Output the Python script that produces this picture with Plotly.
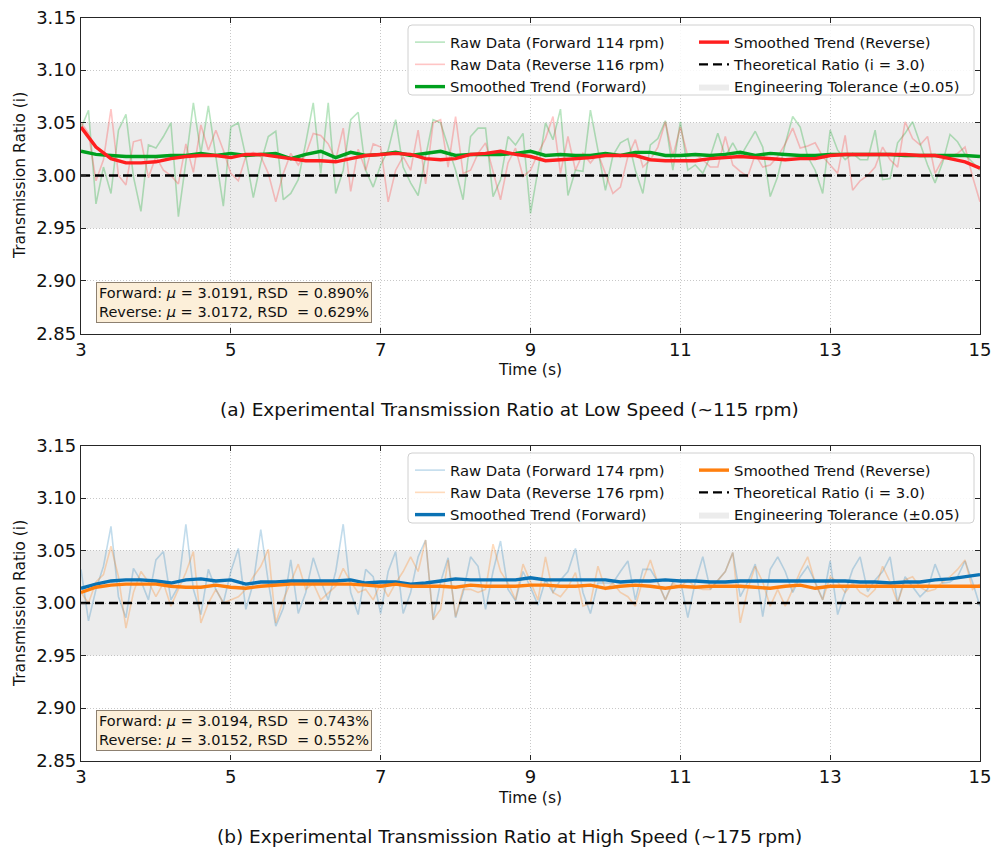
import plotly.graph_objects as go

# ---------------- data ----------------
time_s = [round(3.0 + 0.1 * i, 1) for i in range(121)]
time_smooth = [round(3.0 + 0.2 * i, 1) for i in range(61)]

fwd_low_raw = [
    3.045, 3.062, 2.973, 3.008, 2.983, 3.043, 3.058, 2.999, 2.966, 3.029,
    3.026, 3.037, 3.050, 2.961, 3.013, 3.069, 3.021, 3.066, 3.018, 2.971,
    3.046, 3.050, 3.018, 2.979, 3.012, 3.037, 3.042, 2.977, 2.983, 2.996,
    3.031, 3.069, 3.002, 3.069, 2.983, 3.005, 3.053, 3.060, 3.005, 2.989,
    3.010, 3.024, 3.053, 3.008, 2.993, 2.981, 3.018, 3.053, 3.050, 3.027,
    3.005, 2.977, 3.037, 3.045, 3.045, 2.980, 2.996, 3.037, 3.029, 3.040,
    2.964, 3.005, 3.050, 3.034, 3.063, 2.981, 3.005, 3.004, 3.062, 3.024,
    2.986, 3.019, 3.031, 3.035, 3.005, 2.983, 3.029, 3.035, 3.052, 3.005,
    3.051, 3.005, 3.010, 3.002, 3.018, 3.040, 3.018, 3.031, 3.018, 3.030,
    3.042, 3.027, 2.980, 2.999, 3.030, 3.056, 3.046, 3.018, 3.005, 2.983,
    3.043, 3.024, 3.015, 3.021, 3.015, 3.015, 3.043, 2.996, 2.997, 3.031,
    3.040, 3.051, 3.031, 3.010, 2.993, 3.012, 3.039, 3.032, 3.020, 3.012,
    3.005,
]
rev_low_raw = [
    3.050, 3.040, 2.995, 3.015, 3.063, 3.000, 2.991, 3.032, 3.034, 2.998,
    3.018, 3.005, 3.000, 2.992, 3.030, 3.003, 3.048, 3.024, 3.043, 3.024,
    3.002, 2.995, 3.018, 3.022, 3.018, 3.002, 2.975, 3.002, 3.021, 3.010,
    3.020, 3.040, 3.038, 3.030, 3.015, 3.045, 2.985, 3.025, 3.005, 3.030,
    3.027, 2.975, 3.005, 3.018, 3.005, 3.043, 2.992, 3.050, 3.053, 3.008,
    3.056, 3.002, 3.005, 3.021, 3.031, 3.005, 2.977, 3.012, 3.026, 2.999,
    3.005, 3.021, 3.035, 3.056, 3.002, 3.037, 3.005, 3.021, 3.012, 3.021,
    3.002, 2.983, 2.989, 3.018, 3.034, 3.008, 3.015, 3.027, 3.051, 3.018,
    3.046, 3.018, 3.020, 3.015, 3.008, 3.008, 3.037, 3.010, 3.004, 2.999,
    3.020, 3.008, 3.010, 3.018, 3.030, 3.045, 3.026, 3.028, 3.031, 3.018,
    3.010, 3.002, 3.038, 2.986, 2.995, 3.000, 3.008, 3.027, 3.015, 3.008,
    3.051, 3.035, 3.029, 3.037, 3.002, 3.015, 3.018, 3.021, 3.027, 2.999,
    2.975,
]
fwd_low_smooth = [
    3.023, 3.020, 3.019, 3.018, 3.018, 3.018, 3.019, 3.019, 3.021, 3.019, 3.021,
    3.019, 3.020, 3.021, 3.016, 3.020, 3.023, 3.017, 3.022, 3.019, 3.020,
    3.022, 3.019, 3.021, 3.023, 3.019, 3.020, 3.020, 3.020, 3.021, 3.023,
    3.019, 3.020, 3.019, 3.019, 3.021, 3.019, 3.022, 3.022, 3.019, 3.019,
    3.020, 3.019, 3.020, 3.022, 3.019, 3.021, 3.020, 3.019, 3.019, 3.020,
    3.020, 3.020, 3.020, 3.020, 3.019, 3.019, 3.019, 3.019, 3.019, 3.018,
]
rev_low_smooth = [
    3.046, 3.027, 3.016, 3.012, 3.012, 3.013, 3.016, 3.018, 3.019, 3.019, 3.017,
    3.020, 3.020, 3.018, 3.016, 3.014, 3.014, 3.013, 3.016, 3.019, 3.020,
    3.021, 3.020, 3.016, 3.015, 3.016, 3.020, 3.021, 3.023, 3.020, 3.018,
    3.014, 3.015, 3.016, 3.017, 3.019, 3.019, 3.019, 3.015, 3.014, 3.014,
    3.014, 3.016, 3.017, 3.018, 3.017, 3.016, 3.015, 3.016, 3.016, 3.019,
    3.020, 3.020, 3.020, 3.020, 3.020, 3.019, 3.019, 3.016, 3.013, 3.007,
]

fwd_high_raw = [
    3.032, 2.983, 3.013, 3.035, 3.073, 3.006, 2.986, 3.033, 3.021, 3.003,
    3.041, 3.049, 3.003, 3.016, 3.075, 3.013, 2.989, 3.032, 3.013, 3.000,
    3.030, 3.052, 2.994, 3.019, 3.070, 3.020, 2.978, 2.995, 3.041, 2.990,
    3.010, 3.043, 3.021, 3.003, 3.030, 3.075, 3.010, 2.989, 3.032, 3.025,
    2.990, 3.030, 3.049, 2.990, 3.010, 3.044, 3.060, 2.984, 3.020, 3.043,
    2.986, 3.010, 3.044, 3.035, 2.994, 3.030, 3.059, 3.013, 3.002, 3.030,
    3.015, 2.998, 3.022, 3.010, 3.022, 3.030, 3.052, 3.010, 2.990, 3.019,
    3.019, 3.019, 3.030, 3.040, 3.003, 3.032, 3.032, 3.020, 3.003, 3.020,
    3.022, 2.986, 3.020, 3.044, 3.013, 3.022, 3.030, 3.048, 3.006, 3.020,
    3.037, 2.987, 3.032, 3.044, 3.030, 3.010, 3.025, 3.035, 3.020, 3.003,
    3.040, 2.989, 3.010, 3.032, 3.044, 3.011, 3.022, 3.030, 3.044, 3.000,
    3.025, 3.015, 3.006, 3.013, 3.037, 3.019, 3.020, 3.025, 3.040, 3.020,
    2.997,
]
rev_high_raw = [
    3.010, 3.000, 3.020, 3.027, 3.054, 3.025, 2.976, 3.010, 3.030, 3.020,
    3.006, 3.019, 2.997, 3.013, 3.029, 3.049, 2.981, 3.000, 3.013, 3.000,
    3.003, 3.006, 3.013, 3.025, 3.035, 3.051, 2.981, 3.003, 3.020, 3.037,
    3.013, 3.019, 3.003, 3.010, 3.016, 3.033, 3.020, 3.010, 3.013, 3.003,
    3.019, 3.006, 3.019, 3.030, 3.044, 3.030, 3.060, 2.984, 2.994, 3.041,
    2.987, 3.013, 3.013, 3.010, 3.013, 3.056, 3.030, 3.019, 3.003, 3.037,
    3.020, 3.003, 3.044, 3.010, 3.006, 3.015, 3.029, 2.997, 3.000, 3.035,
    3.013, 3.019, 3.010, 3.006, 2.997, 3.022, 3.041, 3.019, 3.003, 3.019,
    3.015, 3.022, 3.015, 3.013, 3.013, 3.022, 3.030, 3.048, 2.981, 3.013,
    3.035, 3.020, 2.997, 3.013, 2.997, 3.013, 3.030, 3.044, 3.019, 3.003,
    3.025, 3.020, 3.010, 3.019, 3.010, 3.006, 3.013, 3.035, 3.020, 3.000,
    3.022, 3.025, 3.015, 3.011, 3.013, 3.020, 3.025, 3.032, 3.041, 3.013,
    3.018,
]
fwd_high_smooth = [
    3.014, 3.018, 3.021, 3.022, 3.022, 3.021, 3.019, 3.022, 3.023, 3.021, 3.022,
    3.018, 3.020, 3.020, 3.021, 3.021, 3.021, 3.021, 3.022, 3.019, 3.020,
    3.020, 3.018, 3.019, 3.021, 3.023, 3.022, 3.022, 3.022, 3.022, 3.024,
    3.022, 3.022, 3.022, 3.022, 3.022, 3.020, 3.021, 3.021, 3.022, 3.021,
    3.021, 3.020, 3.020, 3.021, 3.021, 3.021, 3.021, 3.021, 3.021, 3.021,
    3.021, 3.020, 3.020, 3.019, 3.020, 3.020, 3.022, 3.023, 3.025, 3.027,
]
rev_high_smooth = [
    3.010, 3.015, 3.017, 3.018, 3.018, 3.018, 3.016, 3.015, 3.015, 3.017, 3.015,
    3.014, 3.016, 3.017, 3.018, 3.018, 3.018, 3.018, 3.018, 3.017, 3.016,
    3.018, 3.016, 3.016, 3.016, 3.015, 3.017, 3.016, 3.016, 3.016, 3.017,
    3.017, 3.016, 3.016, 3.017, 3.014, 3.016, 3.017, 3.016, 3.014, 3.016,
    3.015, 3.016, 3.016, 3.016, 3.015, 3.014, 3.016, 3.017, 3.014, 3.016,
    3.016, 3.016, 3.016, 3.016, 3.016, 3.016, 3.016, 3.016, 3.016, 3.016,
]

theoretical_ratio = 3.0
tolerance = 0.05
x_ticks = [3, 5, 7, 9, 11, 13, 15]
x_tick_labels = ["3", "5", "7", "9", "11", "13", "15"]
y_ticks = [2.85, 2.90, 2.95, 3.00, 3.05, 3.10, 3.15]
y_tick_labels = ["2.85", "2.90", "2.95", "3.00", "3.05", "3.10", "3.15"]

stats_low = ["Forward: <i>μ</i> = 3.0191, RSD\u00a0 = 0.890%",
             "Reverse: <i>μ</i> = 3.0172, RSD\u00a0 = 0.629%"]
stats_high = ["Forward: <i>μ</i> = 3.0194, RSD\u00a0 = 0.743%",
              "Reverse: <i>μ</i> = 3.0152, RSD\u00a0 = 0.552%"]
caption_low = "(a) Experimental Transmission Ratio at Low Speed (~115 rpm)"
caption_high = "(b) Experimental Transmission Ratio at High Speed (~175 rpm)"

# ---------------- layout geometry ----------------
W, H = 1004, 854
ML, MR, MT, MB = 81, 24, 17, 93
PW = W - ML - MR
PH = H - MT - MB
FONT = "DejaVu Sans"


def px_x(x):
    return (x - ML) / PW


def px_y(y):
    return (H - MB - y) / PH


fig = go.Figure()

panels = [
    dict(xa="x", ya="y", fr=fwd_low_raw, rr=rev_low_raw, fs=fwd_low_smooth, rs=rev_low_smooth,
         rpm=("114", "116"), cf="#00a01e", cr="#ff1f1f",
         cf_raw="rgba(0,160,30,0.28)", cr_raw="rgba(255,30,30,0.26)",
         legs=("legend", "legend2"), dy=0),
    dict(xa="x2", ya="y2", fr=fwd_high_raw, rr=rev_high_raw, fs=fwd_high_smooth, rs=rev_high_smooth,
         rpm=("174", "176"), cf="#0a72b4", cr="#ff7f0e",
         cf_raw="rgba(10,114,180,0.25)", cr_raw="rgba(255,127,14,0.28)",
         legs=("legend3", "legend4"), dy=428),
]

for p in panels:
    l1, l2 = p["legs"]
    fig.add_trace(go.Scatter(
        x=[x_ticks[0], x_ticks[-1], x_ticks[-1], x_ticks[0], x_ticks[0]],
        y=[theoretical_ratio - tolerance] * 2 + [theoretical_ratio + tolerance] * 2 + [theoretical_ratio - tolerance],
        fill="toself", fillcolor="rgba(128,128,128,0.15)", mode="lines",
        line=dict(width=0, color="rgba(128,128,128,0.15)"),
        name="Engineering Tolerance (±0.05)", legend=l2, legendrank=3,
        xaxis=p["xa"], yaxis=p["ya"], hoverinfo="skip"))
    fig.add_trace(go.Scatter(
        x=time_s, y=p["fr"], mode="lines", line=dict(color=p["cf_raw"], width=1.6),
        name=f"Raw Data (Forward {p['rpm'][0]} rpm)", legend=l1, legendrank=1,
        xaxis=p["xa"], yaxis=p["ya"]))
    fig.add_trace(go.Scatter(
        x=time_s, y=p["rr"], mode="lines", line=dict(color=p["cr_raw"], width=1.6),
        name=f"Raw Data (Reverse {p['rpm'][1]} rpm)", legend=l1, legendrank=2,
        xaxis=p["xa"], yaxis=p["ya"]))
    fig.add_trace(go.Scatter(
        x=[x_ticks[0], x_ticks[-1]], y=[theoretical_ratio, theoretical_ratio], mode="lines",
        line=dict(color="black", width=2.3, dash="9px,5px"),
        name="Theoretical Ratio (i = 3.0)", legend=l2, legendrank=2,
        xaxis=p["xa"], yaxis=p["ya"]))
    fig.add_trace(go.Scatter(
        x=time_smooth, y=p["fs"], mode="lines", line=dict(color=p["cf"], width=3.4),
        name="Smoothed Trend (Forward)", legend=l1, legendrank=3,
        xaxis=p["xa"], yaxis=p["ya"]))
    fig.add_trace(go.Scatter(
        x=time_smooth, y=p["rs"], mode="lines", line=dict(color=p["cr"], width=3.4),
        name="Smoothed Trend (Reverse)", legend=l2, legendrank=1,
        xaxis=p["xa"], yaxis=p["ya"]))

axis_common = dict(
    showline=True, linecolor="#262626", linewidth=1.3, mirror="ticks",
    ticks="inside", ticklen=5, tickwidth=1.1, tickcolor="#262626",
    showgrid=True, gridcolor="#c8c8c8", griddash="1px,2px", gridwidth=0.9,
    zeroline=False, tickfont=dict(family=FONT, size=18, color="#111111"),
)
xa = dict(axis_common, range=[3, 15], tickvals=x_ticks, ticktext=x_tick_labels)
ya = dict(axis_common, range=[2.85, 3.15], tickvals=y_ticks, ticktext=y_tick_labels)

legend_common = dict(font=dict(family=FONT, size=14.8, color="#111111"),
                     bgcolor="rgba(0,0,0,0)", borderwidth=0, xanchor="left", yanchor="top",
                     traceorder="normal")

shapes = []
annotations = []


def rounded_rect(x0, y0, x1, y1, r=4):
    X0, X1 = px_x(x0), px_x(x1)
    Y0, Y1 = px_y(y0), px_y(y1)
    rx, ry = r / PW, r / PH
    return (f"M{X0 + rx},{Y0} L{X1 - rx},{Y0} Q{X1},{Y0} {X1},{Y0 - ry} "
            f"L{X1},{Y1 + ry} Q{X1},{Y1} {X1 - rx},{Y1} L{X0 + rx},{Y1} "
            f"Q{X0},{Y1} {X0},{Y1 + ry} L{X0},{Y0 - ry} Q{X0},{Y0} {X0 + rx},{Y0} Z")


legends = {}
for p, stats, cap in [(panels[0], stats_low, caption_low), (panels[1], stats_high, caption_high)]:
    dy = p["dy"]
    shapes.append(dict(type="path", xref="paper", yref="paper", layer="above",
                       path=rounded_rect(408, 25 + dy, 974, 95 + dy),
                       fillcolor="rgba(255,255,255,0.85)", line=dict(color="#d0d0d0", width=1)))
    legends[p["legs"][0]] = dict(legend_common, x=px_x(410), y=px_y(26 + dy))
    legends[p["legs"][1]] = dict(legend_common, x=px_x(694), y=px_y(26 + dy))
    annotations.append(dict(
        xref="paper", yref="paper", x=px_x(96), y=px_y(323 + dy), xanchor="left", yanchor="bottom",
        text="<br>".join(stats), align="left", showarrow=False,
        font=dict(family=FONT, size=14.5, color="#111111"),
        bgcolor="#fcefd9", bordercolor="#8d8070", borderwidth=1, borderpad=2))
    annotations.append(dict(
        xref="paper", yref="paper", x=px_x(530), y=px_y(370 + dy), xanchor="center", yanchor="middle",
        text="Time (s)", showarrow=False, font=dict(family=FONT, size=15.5, color="#111111")))
    annotations.append(dict(
        xref="paper", yref="paper", x=px_x(20), y=px_y(176 + dy), xanchor="center", yanchor="middle",
        text="Transmission Ratio (i)", textangle=-90, showarrow=False,
        font=dict(family=FONT, size=15.5, color="#111111")))
    annotations.append(dict(
        xref="paper", yref="paper", x=px_x(509), y=px_y(409 + dy), xanchor="center", yanchor="middle",
        text=cap, showarrow=False, font=dict(family=FONT, size=18.5, color="#111111")))

fig.update_layout(
    width=W, height=H,
    margin=dict(l=ML, r=MR, t=MT, b=MB, autoexpand=False),
    paper_bgcolor="white", plot_bgcolor="white",
    font=dict(family=FONT, size=14, color="#111111"),
    xaxis=dict(xa, domain=[0, 1], anchor="y"),
    yaxis=dict(ya, domain=[px_y(333.5), px_y(17.5)], anchor="x"),
    xaxis2=dict(xa, domain=[0, 1], anchor="y2"),
    yaxis2=dict(ya, domain=[px_y(760.5), px_y(445.5)], anchor="x2"),
    shapes=shapes, annotations=annotations, showlegend=True,
    **legends,
)

fig.write_html("out.html")
